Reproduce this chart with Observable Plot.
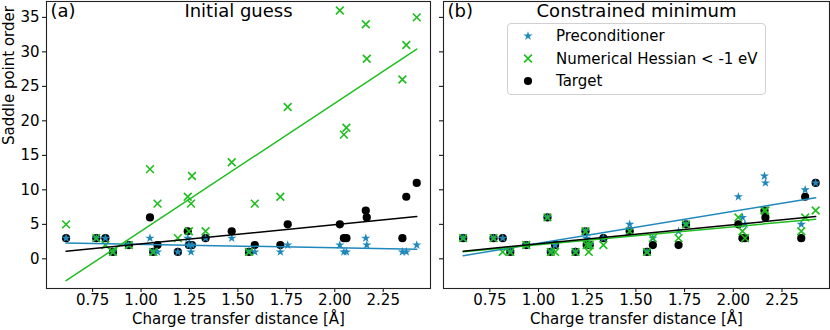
<!DOCTYPE html>
<html><head><meta charset="utf-8">
<script src="https://cdn.jsdelivr.net/npm/d3@7"></script>
<script src="https://cdn.jsdelivr.net/npm/@observablehq/plot@0.6"></script>
<style>
body{margin:0;background:#fff;}
#wrap{position:relative;width:830px;height:330px;font-family:"DejaVu Sans",sans-serif;}
#wrap > svg{position:absolute;top:0;}
#legend{position:absolute;left:507px;top:23px;width:257px;height:70px;border:1px solid #d0d0d0;border-radius:4px;background:rgba(255,255,255,0.85);}
</style></head><body><div id="wrap"></div>
<script>
// structures: charge transfer distance (Å)
const distance = [0.613, 0.769, 0.816, 0.855, 0.937, 1.046, 1.063, 1.085, 1.190, 1.241, 1.247, 1.258, 1.263, 1.333, 1.468, 1.557, 1.587, 1.719, 1.757, 2.026, 2.047, 2.060, 2.160, 2.165, 2.349, 2.369, 2.423];
const target = [3,3,3,1,2,6,1,2,1,4,2,2,2,3,4,1,2,2,5,5,3,3,7,6,3,9,11];
// (a) initial guess
const precondInitial = [3,3,3,1,2,3,1,1,1,3,2,1,2,3,3,1,1,1,2,2,1,1,3,2,1,1,2];
const hessianInitial = [5,3,2,1,2,13,1,8,3,9,4,8,12,4,14,1,8,9,22,36,18,19,34,29,26,31,35];
// (b) constrained minimum
const precondMinimum = [3,3,3,1,2,6,1,2,1,4,3,2,2,3,5,1,3,4,5,9,6,5,12,11,5,10,11];
const hessianMinimum = [3,3,1,1,2,6,1,1,1,4,2,1,2,2,4,1,3,3,5,6,4,3,7,7,4,6,7];

const xTicks = [0.75, 1.00, 1.25, 1.50, 1.75, 2.00, 2.25];
const yTicks = [0, 5, 10, 15, 20, 25, 30, 35];
const seriesNames = ["Preconditioner", "Numerical Hessian < -1 eV", "Target"];
const panelTags = ["(a)", "(b)"];
const panelTitles = ["Initial guess", "Constrained minimum"];
const xLabel = "Charge transfer distance [Å]";
const yLabel = "Saddle point order";

const BLUE = "#1e88bc", GREEN = "#1ebe1e";
const STAR_R = 2.9, TIMES_R = 3.6, DOT_R = 4.1;

function panel(pre, hes, k, left, width, mL, mR, showY) {
  const rows = distance.map((d, i) => ({d, t: target[i], p: pre[i], h: hes[i]}));
  const marks = [
    Plot.axisX({ticks: xTicks, tickFormat: d3.format(".2f"), tickSize: 4, tickPadding: 2, label: null}),
    Plot.axisY({ticks: yTicks, tickSize: 4, tickPadding: 3, label: null, tickFormat: showY ? (d => String(d)) : (() => "")}),
    Plot.dot(rows, {x: "d", y: "t", r: DOT_R, fill: "black"}),
    Plot.dot(rows, {x: "d", y: "p", symbol: "star", r: STAR_R, fill: BLUE}),
    Plot.dot(rows, {x: "d", y: "h", symbol: "times", r: TIMES_R, stroke: GREEN, strokeWidth: 1.6}),
    Plot.linearRegressionY(rows, {x: "d", y: "p", stroke: BLUE, ci: 0, strokeWidth: 1.5}),
    Plot.linearRegressionY(rows, {x: "d", y: "h", stroke: GREEN, ci: 0, strokeWidth: 1.5}),
    Plot.linearRegressionY(rows, {x: "d", y: "t", stroke: "black", ci: 0, strokeWidth: 1.5}),
    Plot.frame({stroke: "#222", strokeWidth: 1.1}),
    Plot.text([panelTags[k]], {frameAnchor: "top-left", textAnchor: "start", lineAnchor: "top", dx: 4, dy: 3, fontSize: 18}),
    Plot.text([panelTitles[k]], {frameAnchor: "top", lineAnchor: "top", dy: 3, fontSize: 18}),
    Plot.text([xLabel], {frameAnchor: "bottom", lineAnchor: "middle", dy: 31, fontSize: 15})
  ];
  if (showY) marks.push(Plot.text([yLabel], {frameAnchor: "left", dx: -37, rotate: -90, fontSize: 15}));
  const svg = Plot.plot({
    width, height: 330,
    marginLeft: mL, marginRight: mR, marginTop: 1, marginBottom: 42,
    x: {domain: [0.512, 2.494]},
    y: {domain: [-4.3, 37.3]},
    style: {fontFamily: "DejaVu Sans", fontSize: "15px", background: "transparent", overflow: "visible"},
    marks
  });
  svg.style.left = left + "px";
  return svg;
}

const wrap = document.getElementById("wrap");
wrap.appendChild(panel(precondInitial, hessianInitial, 0, 0, 436, 46, 6, true));
wrap.appendChild(panel(precondMinimum, hessianMinimum, 1, 436, 394, 7, 1, false));

// legend
const leg = document.createElement("div");
leg.id = "legend";
const ns = "http://www.w3.org/2000/svg";
const ls = document.createElementNS(ns, "svg");
ls.setAttribute("width", 257); ls.setAttribute("height", 70);
ls.style.fontFamily = "DejaVu Sans"; ls.style.fontSize = "15px";
const symDefs = [
  {type: d3.symbolStar, size: Math.PI * STAR_R * STAR_R, fill: BLUE, stroke: "none"},
  {type: d3.symbolTimes, size: Math.PI * TIMES_R * TIMES_R, fill: "none", stroke: GREEN},
  {type: d3.symbolCircle, size: Math.PI * DOT_R * DOT_R, fill: "black", stroke: "none"}
];
seriesNames.forEach((name, i) => {
  const cy = 12 + i * 22.5;
  const p = document.createElementNS(ns, "path");
  p.setAttribute("d", d3.symbol().type(symDefs[i].type).size(symDefs[i].size)());
  p.setAttribute("transform", `translate(20,${cy})`);
  p.setAttribute("fill", symDefs[i].fill);
  p.setAttribute("stroke", symDefs[i].stroke);
  p.setAttribute("stroke-width", 1.6);
  ls.appendChild(p);
  const t = document.createElementNS(ns, "text");
  t.setAttribute("x", 48); t.setAttribute("y", cy); t.setAttribute("dy", "0.35em");
  t.textContent = name;
  ls.appendChild(t);
});
leg.appendChild(ls);
wrap.appendChild(leg);
</script></body></html>
